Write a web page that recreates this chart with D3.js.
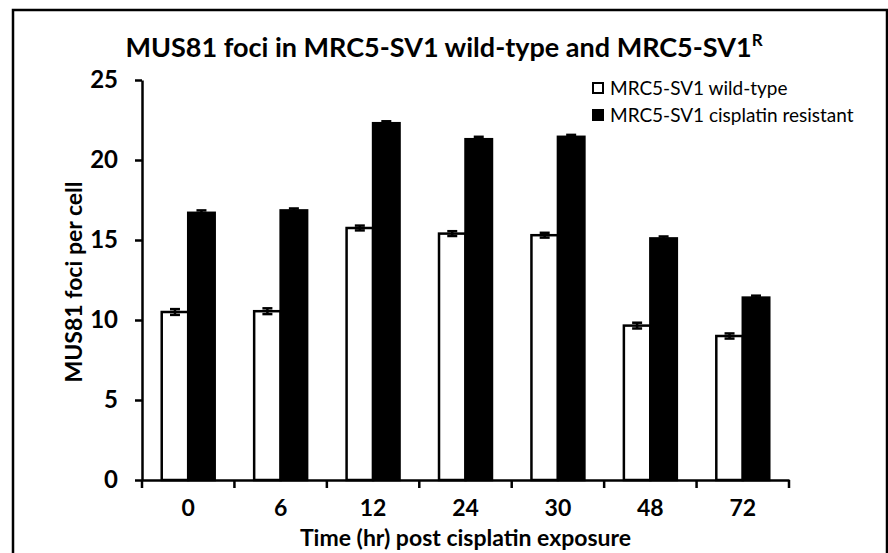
<!DOCTYPE html>
<html>
<head>
<meta charset="utf-8">
<script src="https://cdn.jsdelivr.net/npm/d3@7"></script>
<style>
  body { margin: 0; background: #fff; }
  text { font-family: Lato, "Liberation Sans", sans-serif; fill: #000; }
</style>
</head>
<body>
<div class="chart"></div>
<script>
// Chart data
var hours = ["0", "6", "12", "24", "30", "48", "72"];
var seriesNames = ["MRC5-SV1 wild-type", "MRC5-SV1 cisplatin resistant"];
var wildType = [10.5, 10.55, 15.75, 15.4, 15.3, 9.65, 9.0];
var resistant = [16.7, 16.85, 22.3, 21.3, 21.45, 15.1, 11.4];
var wildTypeErr = [0.18, 0.18, 0.15, 0.15, 0.15, 0.18, 0.16];
var resistantErr = [0.15, 0.12, 0.12, 0.15, 0.12, 0.12, 0.12];
var yTicks = [0, 5, 10, 15, 20, 25];

var svgWidth = 888;
var svgHeight = 553;

// plot area (Excel style)
var margin = { top: 80, right: 99, bottom: 73, left: 142 };
var width = svgWidth - margin.left - margin.right;
var height = svgHeight - margin.top - margin.bottom;

var svg = d3.select(".chart")
  .append("svg")
  .attr("width", svgWidth)
  .attr("height", svgHeight);

// outer frame
svg.append("rect")
  .attr("x", 13)
  .attr("y", 10)
  .attr("width", 874)
  .attr("height", 560)
  .attr("fill", "none")
  .attr("stroke", "#000")
  .attr("stroke-width", 2.5);

// title
var title = svg.append("text")
  .attr("x", 444)
  .attr("y", 57)
  .attr("text-anchor", "middle")
  .attr("font-size", 27)
  .attr("font-weight", "bold")
  .text("MUS81 foci in MRC5-SV1 wild-type and MRC5-SV1");
title.append("tspan")
  .attr("font-size", 17)
  .attr("dy", -11)
  .text("R");

var chartGroup = svg.append("g")
  .attr("transform", `translate(${margin.left}, ${margin.top})`);

// scales
var x0 = d3.scaleBand()
  .domain(hours)
  .range([0, width])
  .padding(0);

var x1 = d3.scaleBand()
  .domain(seriesNames)
  .range([0, x0.bandwidth()])
  .paddingInner(0)
  .paddingOuter(0.745);

var y = d3.scaleLinear()
  .domain([0, 25])
  .range([height, 0]);

var rows = hours.map(function(h, i) {
  return {
    hour: h,
    values: [
      { name: seriesNames[0], value: wildType[i], err: wildTypeErr[i] },
      { name: seriesNames[1], value: resistant[i], err: resistantErr[i] }
    ]
  };
});

var fills = { "MRC5-SV1 wild-type": "#fff", "MRC5-SV1 cisplatin resistant": "#000" };

var groups = chartGroup.selectAll(".grp")
  .data(rows)
  .enter()
  .append("g")
  .attr("class", "grp")
  .attr("transform", d => `translate(${x0(d.hour)}, 0)`);

groups.selectAll("rect")
  .data(d => d.values)
  .enter()
  .append("rect")
  .attr("x", d => x1(d.name))
  .attr("y", d => y(d.value))
  .attr("width", x1.bandwidth())
  .attr("height", d => height - y(d.value))
  .attr("fill", d => fills[d.name])
  .attr("stroke", "#000")
  .attr("stroke-width", 2.5);

// error bars
var errs = groups.selectAll(".err")
  .data(d => d.values)
  .enter()
  .append("g")
  .attr("class", "err")
  .attr("stroke", "#000")
  .attr("stroke-width", 2.5);

errs.append("line")
  .attr("x1", d => x1(d.name) + x1.bandwidth() / 2)
  .attr("x2", d => x1(d.name) + x1.bandwidth() / 2)
  .attr("y1", d => y(d.value - d.err))
  .attr("y2", d => y(d.value + d.err));
errs.append("line")
  .attr("x1", d => x1(d.name) + x1.bandwidth() / 2 - 5)
  .attr("x2", d => x1(d.name) + x1.bandwidth() / 2 + 5)
  .attr("y1", d => y(d.value + d.err))
  .attr("y2", d => y(d.value + d.err));
errs.append("line")
  .attr("x1", d => x1(d.name) + x1.bandwidth() / 2 - 5)
  .attr("x2", d => x1(d.name) + x1.bandwidth() / 2 + 5)
  .attr("y1", d => y(d.value - d.err))
  .attr("y2", d => y(d.value - d.err));

// y axis
var leftAxis = d3.axisLeft(y)
  .tickValues(yTicks)
  .tickSize(7)
  .tickSizeOuter(0)
  .tickPadding(17);

var yAxisG = chartGroup.append("g").call(leftAxis);
yAxisG.select(".domain").attr("stroke-width", 2.5);
yAxisG.selectAll(".tick line").attr("stroke-width", 2.5);
yAxisG.selectAll(".tick text")
  .attr("font-size", 24)
  .attr("font-weight", "bold")
  .attr("font-family", "Lato, sans-serif");

// x axis: ticks sit between categories
var bottomAxis = d3.axisBottom(x0)
  .tickSize(0)
  .tickPadding(20);

var xAxisG = chartGroup.append("g")
  .attr("transform", `translate(0, ${height})`)
  .call(bottomAxis);
xAxisG.select(".domain").attr("stroke-width", 2.5);
xAxisG.selectAll(".tick text")
  .attr("font-size", 23)
  .attr("font-weight", "bold")
  .attr("font-family", "Lato, sans-serif");

var edges = hours.map(h => x0(h)).concat([width]);
xAxisG.selectAll(".edge")
  .data(edges)
  .enter()
  .append("line")
  .attr("class", "edge")
  .attr("x1", d => d)
  .attr("x2", d => d)
  .attr("y1", 0)
  .attr("y2", 8)
  .attr("stroke", "#000")
  .attr("stroke-width", 2.5);

// axis titles
chartGroup.append("text")
  .attr("x", width / 2)
  .attr("y", height + 66)
  .attr("text-anchor", "middle")
  .attr("font-size", 23)
  .attr("font-weight", "bold")
  .text("Time (hr) post cisplatin exposure");

chartGroup.append("text")
  .attr("transform", "rotate(-90)")
  .attr("x", -(282 - margin.top))
  .attr("y", -margin.left + 82)
  .attr("text-anchor", "middle")
  .attr("font-size", 23)
  .attr("font-weight", "bold")
  .text("MUS81 foci per cell");

// legend
var legend = svg.append("g")
  .attr("transform", "translate(592, 88)");

var items = legend.selectAll("g")
  .data(seriesNames)
  .enter()
  .append("g")
  .attr("transform", (d, i) => `translate(0, ${i * 27})`);

items.append("rect")
  .attr("x", 1)
  .attr("y", -5)
  .attr("width", 10)
  .attr("height", 10)
  .attr("fill", d => fills[d])
  .attr("stroke", "#000")
  .attr("stroke-width", 2);

items.append("text")
  .attr("x", 18)
  .attr("y", 6.5)
  .attr("font-size", 19)
  .text(d => d);
</script>
</body>
</html>
